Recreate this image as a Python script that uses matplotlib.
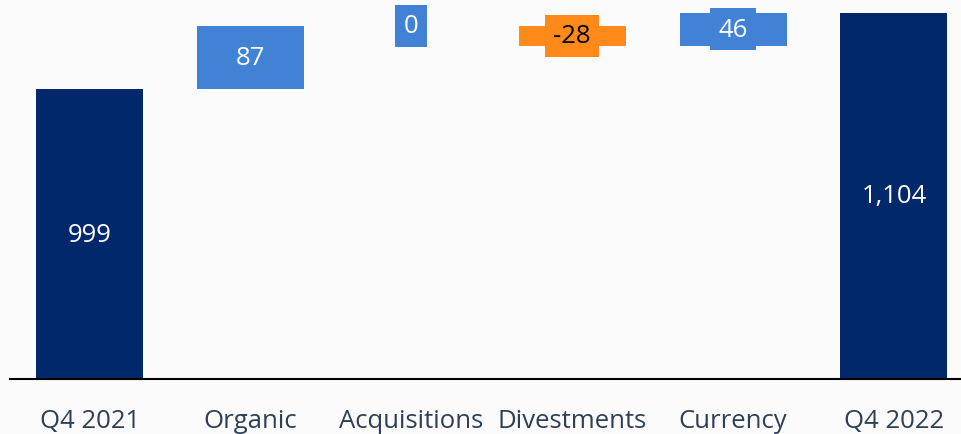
import matplotlib
matplotlib.use("Agg")
import matplotlib.pyplot as plt

categories = ["Q4 2021", "Organic", "Acquisitions", "Divestments", "Currency", "Q4 2022"]
values = [999, 87, 0, -28, 46, 1104]
labels = ["999", "87", "0", "-28", "46", "1,104"]
kinds = ["total", "delta", "delta", "delta", "delta", "total"]

navy = "#00286B"
blue = "#4182D4"
orange = "#FF8A1A"
tick_color = "#2E3F57"
bg = "#fbfbfb"

plt.rcParams['font.family'] = ['Open Sans', 'DejaVu Sans']

fig = plt.figure(figsize=(9.61, 4.35), dpi=100)
fig.patch.set_facecolor(bg)
ax = fig.add_axes([0.01, 1 - 380 / 435, 0.99, 380 / 435])
ax.set_facecolor(bg)

base_min = 600
ax.set_ylim(base_min, base_min + 380 / 0.7268)
ax.set_xlim(-0.4975, 5.417)

running = 0
width = 0.665
fs = 18.5
for i, (cat, v, lab, kind) in enumerate(zip(categories, values, labels, kinds)):
    if kind == "total":
        bottom = base_min
        height = v - base_min
        running = v
        ax.bar(i, height, bottom=bottom, width=width, color=navy, zorder=2)
        ax.text(i, bottom + height / 2, lab, ha="center", va="center",
                color="white", fontsize=fs, zorder=4)
    else:
        start = running
        end = running + v
        running = end
        color = blue if v >= 0 else orange
        txtcolor = "white" if v >= 0 else "black"
        lo, hi = min(start, end), max(start, end)
        ax.bar(i, hi - lo, bottom=lo, width=width, color=color, zorder=2)
        ax.text(i, (lo + hi) / 2, lab, ha="center", va="center",
                color=txtcolor, fontsize=fs, zorder=4,
                bbox=dict(boxstyle="square,pad=0.33", facecolor=color,
                          edgecolor="none"))

ax.set_xticks(range(len(categories)))
ax.set_xticklabels(categories, fontsize=fs, color=tick_color)
ax.tick_params(axis="x", length=0, pad=21)
ax.set_yticks([])
for s in ["top", "right", "left"]:
    ax.spines[s].set_visible(False)
ax.spines["bottom"].set_linewidth(1.5)
ax.spines["bottom"].set_color("black")

fig.savefig("out.png", dpi=100, facecolor=fig.get_facecolor())
